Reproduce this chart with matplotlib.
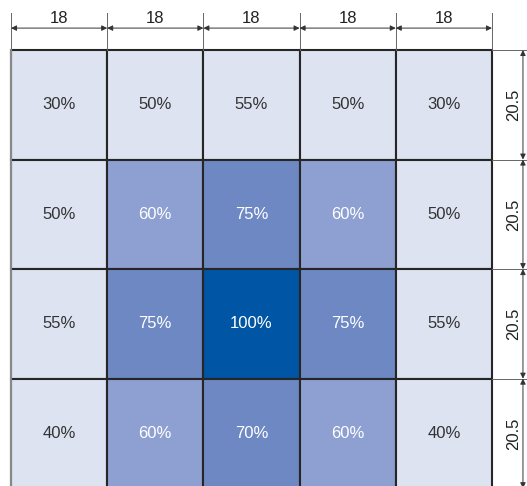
import numpy as np
import matplotlib
matplotlib.use("Agg")
import matplotlib.pyplot as plt
from matplotlib.patches import Rectangle
from matplotlib.colors import ListedColormap, BoundaryNorm

plt.rcParams['font.family'] = ['Liberation Sans', 'DejaVu Sans']

# cell values in percent (rows top to bottom)
values = np.array([
    [30, 50, 55, 50, 30],
    [50, 60, 75, 60, 50],
    [55, 75, 100, 75, 55],
    [40, 60, 70, 60, 40],
])
col_widths = [18, 18, 18, 18, 18]
row_heights = [20.5, 20.5, 20.5, 20.5]

# colour levels
level_bounds = [0, 57, 65, 90, 101]
level_colors = ['#dde3f1', '#8da0d1', '#6e88c4', '#0055a4']
cmap = ListedColormap(level_colors)
norm = BoundaryNorm(level_bounds, cmap.N)

fig = plt.figure(figsize=(5.27, 4.86), dpi=100)
ax = fig.add_axes([0, 0, 1, 1])
# 1 unit ~ 5.344 px, grid origin at px (11, 50)
s = 5.344
ax.set_xlim(-11 / s, (527 - 11) / s)
ax.set_ylim((486 - 50) / s, -50 / s)
ax.axis('off')

x_edges = np.concatenate([[0], np.cumsum(col_widths)])
y_edges = np.concatenate([[0], np.cumsum(row_heights)])

for i in range(values.shape[0]):
    for j in range(values.shape[1]):
        v = values[i, j]
        ax.add_patch(Rectangle((x_edges[j], y_edges[i]), col_widths[j], row_heights[i],
                               facecolor=cmap(norm(v)), edgecolor='#262626', lw=1.5))
        tc = '#333333' if v < 57 else 'white'
        ax.text(x_edges[j] + col_widths[j] / 2, y_edges[i] + row_heights[i] / 2,
                f'{v}%', ha='center', va='center', fontsize=12, color=tc)

# left border lighter
ax.plot([0, 0], [0, y_edges[-1]], color='#888888', lw=1.5, zorder=5)

# top dimension
dim_y = -4.1
for xe in x_edges:
    ax.plot([xe, xe], [-6.9, 0], color='#666666', lw=0.7)
for j in range(len(col_widths)):
    ax.annotate('', xy=(x_edges[j], dim_y), xytext=(x_edges[j + 1], dim_y),
                arrowprops=dict(arrowstyle='<|-|>', color='#333333', lw=0.7,
                                mutation_scale=8, shrinkA=0, shrinkB=0))
    ax.text(x_edges[j] + col_widths[j] / 2, -5.0, str(col_widths[j]),
            ha='center', va='baseline', fontsize=12, color='#222222')

# right dimension
dim_x = 95.8
for ye in y_edges:
    ax.plot([x_edges[-1], 97], [ye, ye], color='#666666', lw=0.7)
for i in range(len(row_heights)):
    ax.annotate('', xy=(dim_x, y_edges[i]), xytext=(dim_x, y_edges[i + 1]),
                arrowprops=dict(arrowstyle='<|-|>', color='#333333', lw=0.7,
                                mutation_scale=8, shrinkA=0, shrinkB=0))
    ax.text(94.1, y_edges[i] + row_heights[i] / 2, str(row_heights[i]),
            ha='center', va='center', rotation=90, fontsize=12, color='#222222')

fig.savefig('out.png', dpi=100)
